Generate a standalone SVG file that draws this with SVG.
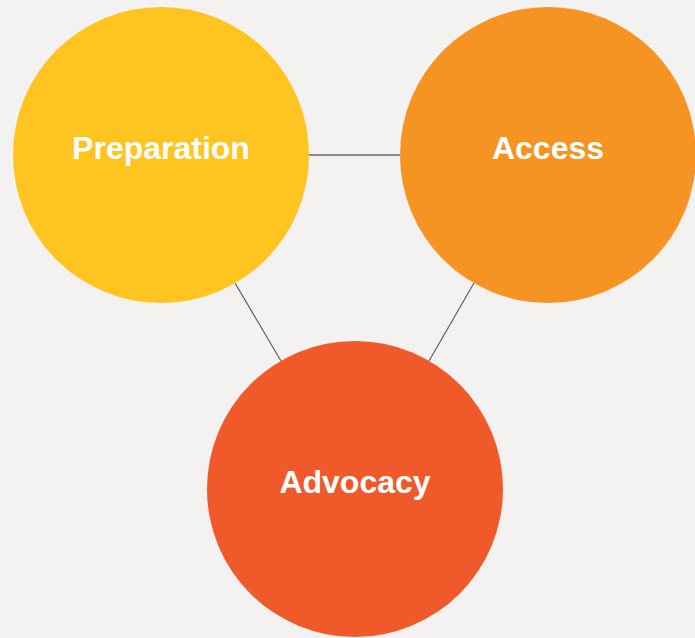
<svg xmlns="http://www.w3.org/2000/svg" width="695" height="638" viewBox="0 0 695 638">
<style>
.lbl{font-family:"Liberation Sans",Arial,sans-serif;font-weight:bold;font-size:32px;fill:#ffffff;text-anchor:middle}
.edge{stroke:#6b6865;stroke-width:1.3;fill:none}
</style>
<rect width="695" height="638" fill="#f4f2f0"/>
<g id="connectors">
<line class="edge" x1="309" y1="155" x2="400" y2="155"/>
<line class="edge" x1="235" y1="283" x2="281" y2="361"/>
<line class="edge" x1="474" y1="283" x2="429" y2="361"/>
</g>
<g id="preparation">
<circle cx="161" cy="155" r="148" fill="#ffc420"/>
<text class="lbl" x="161" y="159">Preparation</text>
</g>
<g id="access">
<circle cx="548" cy="155" r="148" fill="#f59422"/>
<text class="lbl" x="548" y="159">Access</text>
</g>
<g id="advocacy">
<circle cx="355" cy="489" r="148" fill="#f05a2a"/>
<text class="lbl" x="355" y="493">Advocacy</text>
</g>
</svg>
